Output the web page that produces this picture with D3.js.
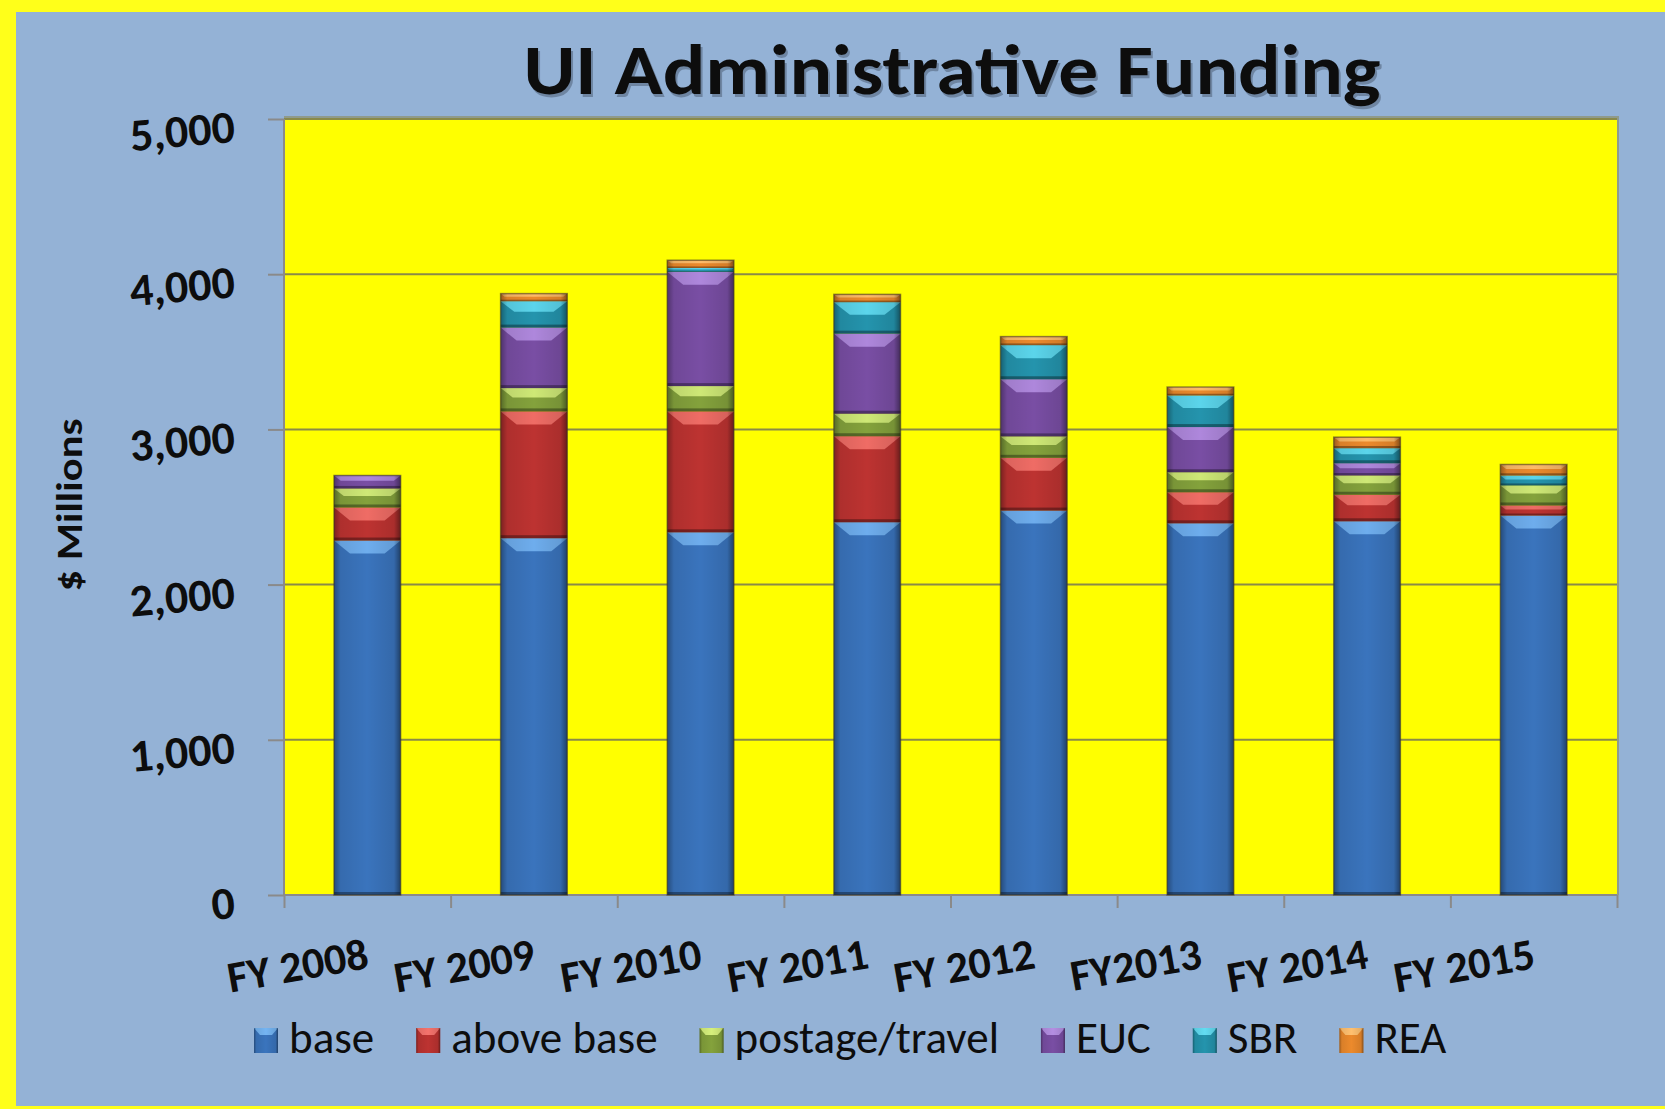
<!DOCTYPE html>
<html>
<head>
<meta charset="utf-8">
<script src="https://cdn.jsdelivr.net/npm/d3@7"></script>
<style>
  html, body { margin: 0; padding: 0; background: #ffff1a; }
  #chart { width: 1665px; height: 1109px; }
  text { font-family: Carlito, Lato, "Open Sans", sans-serif; fill: #0d0d0d; }
</style>
</head>
<body>
<div id="chart"></div>
<script>
const categories = ["FY 2008", "FY 2009", "FY 2010", "FY 2011", "FY 2012", "FY2013", "FY 2014", "FY 2015"];
const seriesNames = ["base", "above base", "postage/travel", "EUC", "SBR", "REA"];

// $ millions
const base        = [2284, 2299, 2337, 2402, 2477, 2395, 2408, 2445];
const aboveBase   = [ 213,  817,  779,  554,  340,  200,  171,   65];
const postage     = [ 122,  150,  163,  145,  138,  129,  124,  129];
const euc         = [  84,  390,  736,  516,  368,  291,   79,    0];
const sbr         = [   0,  170,   25,  203,  220,  204,   97,   64];
const rea         = [   0,   49,   50,   50,   55,   54,   71,   71];

const yTicks = [0, 1000, 2000, 3000, 4000, 5000];

const seriesValues = [base, aboveBase, postage, euc, sbr, rea];
const rows = categories.map((c, i) => {
  const r = { cat: c };
  seriesNames.forEach((s, j) => r[s] = seriesValues[j][i]);
  return r;
});

// body colour, bevel highlight
const colors = {
  "base":           ["#3a74bd", "#74b4f2"],
  "above base":     ["#bd3331", "#f4726c"],
  "postage/travel": ["#84a23c", "#d6f07c"],
  "EUC":            ["#794ea4", "#b48ee2"],
  "SBR":            ["#2494ad", "#62dcf2"],
  "REA":            ["#ec8a2c", "#ffc070"]
};

const W = 1665, H = 1109;
const plot = { left: 284, right: 1617, top: 119, bottom: 895 };

const svg = d3.select("#chart").append("svg")
  .attr("width", W).attr("height", H);

const defs = svg.append("defs");
const sideShade = defs.append("linearGradient").attr("id", "side")
  .attr("x1", 0).attr("x2", 1).attr("y1", 0).attr("y2", 0);
[[0, 0.35], [0.1, 0.08], [0.5, 0], [0.9, 0.1], [1, 0.45]].forEach(([o, a]) =>
  sideShade.append("stop").attr("offset", o).attr("stop-color", "#000").attr("stop-opacity", a));

// frame and background
svg.append("rect").attr("width", W).attr("height", H).attr("fill", "#ffff1a");
svg.append("rect").attr("x", 16).attr("y", 12).attr("width", W - 16).attr("height", 1094)
  .attr("fill", "#94b2d6");

// plot area (with a soft shadow line on top)
svg.append("rect")
  .attr("x", plot.left).attr("y", plot.top - 3)
  .attr("width", plot.right - plot.left + 2).attr("height", plot.bottom - plot.top + 3)
  .attr("fill", "#8f9a8c");
svg.append("rect")
  .attr("x", plot.left).attr("y", plot.top)
  .attr("width", plot.right - plot.left).attr("height", plot.bottom - plot.top)
  .attr("fill", "#ffff00");

const x = d3.scaleBand()
  .domain(categories)
  .range([plot.left, plot.right])
  .paddingInner(0.6)
  .paddingOuter(0.3);

const y = d3.scaleLinear()
  .domain([0, 5000])
  .range([plot.bottom, plot.top]);

// gridlines
svg.append("g")
  .selectAll("line")
  .data(yTicks.filter(d => d > 0))
  .enter()
  .append("line")
  .attr("x1", plot.left).attr("x2", plot.right)
  .attr("y1", d => y(d)).attr("y2", d => y(d))
  .attr("stroke", "#8a8a48").attr("stroke-width", 2);

// y axis
const yAxis = svg.append("g")
  .attr("transform", `translate(${plot.left},0)`)
  .call(d3.axisLeft(y).tickValues(yTicks).tickSize(16).tickFormat(""));
yAxis.selectAll("line, path").attr("stroke", "#8a8a8a").attr("stroke-width", 2);
yAxis.select("path").attr("d", `M0,${plot.top}V${plot.bottom}`);

svg.append("g")
  .selectAll("text")
  .data(yTicks)
  .enter()
  .append("text")
  .attr("transform", d => `translate(236,${y(d) + 23}) rotate(-5)`)
  .attr("text-anchor", "end")
  .style("font-size", "46px")
  .style("font-weight", "bold")
  .text(d3.format(","));

// x axis, ticks sit on category boundaries
const xEdge = d3.scaleLinear().domain([0, categories.length]).range([plot.left, plot.right]);
const xAxis = svg.append("g")
  .attr("transform", `translate(0,${plot.bottom})`)
  .call(d3.axisBottom(xEdge).ticks(categories.length).tickSize(13).tickFormat(""));
xAxis.selectAll("line, path").attr("stroke", "#8a8a8a").attr("stroke-width", 2);
xAxis.select("path").attr("d", `M${plot.left},0H${plot.right}`);

svg.append("g")
  .selectAll("text")
  .data(categories)
  .enter()
  .append("text")
  .attr("transform", d => `translate(${x(d) + x.bandwidth() / 2 + 3},968) rotate(-10)`)
  .attr("text-anchor", "end")
  .style("font-size", "44px")
  .style("font-weight", "bold")
  .text(d => d);

// stacked bars with a bevelled look
const stacked = d3.stack().keys(seriesNames)(rows);
const bars = svg.append("g");

stacked.forEach(layer => {
  const [body, light] = colors[layer.key];
  const segs = layer.filter(d => d[1] - d[0] > 0);
  const g = bars.append("g");

  g.selectAll("rect.body")
    .data(segs)
    .enter()
    .append("rect")
    .attr("class", "body")
    .attr("x", d => x(d.data.cat))
    .attr("y", d => y(d[1]))
    .attr("width", x.bandwidth())
    .attr("height", d => y(d[0]) - y(d[1]))
    .attr("fill", body);

  // top bevel
  g.selectAll("path.bevel")
    .data(segs)
    .enter()
    .append("path")
    .attr("class", "bevel")
    .attr("d", d => {
      const x0 = x(d.data.cat), w = x.bandwidth();
      const y0 = y(d[1]);
      const h = Math.min(13, (y(d[0]) - y(d[1])) * 0.4);
      const inset = Math.min(16, h * 1.3);
      return `M${x0},${y0}H${x0 + w}L${x0 + w - inset},${y0 + h}H${x0 + inset}Z`;
    })
    .attr("fill", light)
    .attr("opacity", 0.9);

  // side shading
  g.selectAll("rect.side")
    .data(segs)
    .enter()
    .append("rect")
    .attr("class", "side")
    .attr("x", d => x(d.data.cat))
    .attr("y", d => y(d[1]))
    .attr("width", x.bandwidth())
    .attr("height", d => y(d[0]) - y(d[1]))
    .attr("fill", "url(#side)");

  // dark seam at segment bottom
  g.selectAll("rect.seam")
    .data(segs)
    .enter()
    .append("rect")
    .attr("class", "seam")
    .attr("x", d => x(d.data.cat))
    .attr("y", d => y(d[0]) - Math.min(3, (y(d[0]) - y(d[1])) * 0.2))
    .attr("width", x.bandwidth())
    .attr("height", d => Math.min(3, (y(d[0]) - y(d[1])) * 0.2))
    .attr("fill", "#000")
    .attr("opacity", 0.35);
});

// bar outlines
bars.append("g")
  .selectAll("rect")
  .data(rows)
  .enter()
  .append("rect")
  .attr("x", d => x(d.cat))
  .attr("y", (d, i) => y(stacked[stacked.length - 1][i][1]))
  .attr("width", x.bandwidth())
  .attr("height", (d, i) => y(0) - y(stacked[stacked.length - 1][i][1]))
  .attr("fill", "none")
  .attr("stroke", "#3a3320")
  .attr("stroke-opacity", 0.55)
  .attr("stroke-width", 1.5);

// title
const title = svg.append("g");
title.append("text")
  .attr("x", 954).attr("y", 97)
  .attr("text-anchor", "middle")
  .attr("textLength", 857).attr("lengthAdjust", "spacingAndGlyphs")
  .style("font-size", "71px").style("font-weight", "bold")
  .style("fill", "#4a5a70").style("opacity", 0.5)
  .text("UI Administrative Funding");
title.append("text")
  .attr("x", 952).attr("y", 94)
  .attr("text-anchor", "middle")
  .attr("textLength", 857).attr("lengthAdjust", "spacingAndGlyphs")
  .style("font-size", "71px").style("font-weight", "bold")
  .text("UI Administrative Funding");

// y axis title
svg.append("text")
  .attr("transform", "translate(82,505) rotate(-90)")
  .attr("text-anchor", "middle")
  .attr("textLength", 173).attr("lengthAdjust", "spacingAndGlyphs")
  .style("font-size", "36px").style("font-weight", "bold")
  .text("$ Millions");

// legend, laid out left to right from measured text widths
const legend = svg.append("g").attr("transform", "translate(254,1028)");
let lx = 0;
seriesNames.forEach(name => {
  const [body, light] = colors[name];
  const item = legend.append("g").attr("transform", `translate(${lx},0)`);
  item.append("rect").attr("width", 24).attr("height", 25).attr("fill", body);
  item.append("path").attr("d", "M0,0H24L18,7H6Z").attr("fill", light);
  item.append("rect").attr("width", 24).attr("height", 25).attr("fill", "url(#side)");
  const t = item.append("text")
    .attr("x", 35).attr("y", 25)
    .style("font-size", "45px")
    .text(name);
  lx += 35 + t.node().getComputedTextLength() + 42;
});
</script>
</body>
</html>
